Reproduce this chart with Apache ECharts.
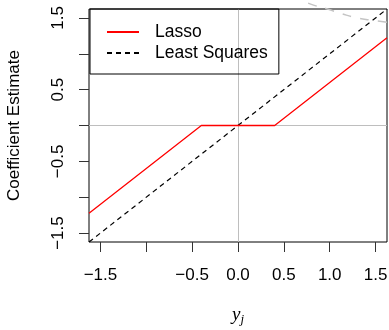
<!DOCTYPE html>
<html>
<head>
<meta charset="utf-8">
<script src="https://cdn.jsdelivr.net/npm/echarts@6/dist/echarts.min.js"></script>
<style>
  html, body { margin: 0; padding: 0; background: #fff; }
  #main { width: 389px; height: 330px; }
</style>
</head>
<body>
<div id="main"></div>
<script>
(function(){
  'use strict';

  // data
  var lassoX = [-1.625, -0.4, 0.4, 1.625];
  var lassoY = [-1.225, 0, 0, 1.225];
  var lsX = [-1.625, 1.625];
  var lsY = [-1.625, 1.625];
  // faint dashed curve in the top right corner
  var curveX = [0.6, 0.7, 0.8, 0.975, 1.13, 1.3, 1.45, 1.63];
  var curveY = [1.84, 1.75, 1.69, 1.625, 1.56, 1.50, 1.47, 1.44];

  var xTicks = [-1.5, -1, -0.5, 0, 0.5, 1, 1.5];
  var xLabels = [-1.5, -0.5, 0, 0.5, 1, 1.5];
  var yTicks = [-1.5, -1, -0.5, 0, 0.5, 1, 1.5];
  var yLabels = [-1.5, -0.5, 0.5, 1.5];

  function pairs(xs, ys) {
    return xs.map(function(x, i){ return [x, ys[i]]; });
  }
  function fmt(v) {
    return v.toFixed(1).replace('-', '\u2212');
  }

  var font = '"Liberation Sans", Arial, Helvetica, sans-serif';
  var myChart = echarts.init(document.getElementById('main'));

  var option = {
    animation: false,
    backgroundColor: '#fff',
    textStyle: { fontFamily: font },
    grid: {
      left: 89, right: 2, top: 9, bottom: 88,
      containLabel: false,
      outerBoundsMode: 'none',
      show: true, borderColor: '#000', borderWidth: 1, backgroundColor: 'transparent'
    },
    legend: {
      data: ['Lasso', 'Least Squares'],
      orient: 'vertical',
      left: 90, top: 9,
      padding: [12.5, 11, 10.5, 16],
      itemGap: 0,
      itemWidth: 32,
      itemHeight: 14,
      borderColor: '#000',
      borderWidth: 1,
      borderRadius: 0,
      backgroundColor: 'transparent',
      itemStyle: { opacity: 0 },
      textStyle: {
        fontFamily: font, fontSize: 17.5, color: '#000',
        lineHeight: 21, padding: [0, 0, 0, 11]
      }
    },
    xAxis: {
      type: 'value',
      min: -1.625, max: 1.625,
      name: '{y|y}{j|j}',
      nameLocation: 'middle',
      nameGap: 61,
      nameTextStyle: {
        rich: {
          y: { fontFamily: '"Liberation Serif", serif', fontStyle: 'italic', fontSize: 19, color: '#000' },
          j: { fontFamily: '"Liberation Serif", serif', fontStyle: 'italic', fontSize: 13, color: '#000', padding: [10, 0, 0, 0] }
        }
      },
      axisLine: { show: false, onZero: false },
      splitLine: { show: false },
      axisTick: { show: true, length: 10, customValues: xTicks, lineStyle: { color: '#333' } },
      axisLabel: {
        customValues: xLabels, formatter: fmt, margin: 25,
        fontSize: 17, color: '#000', fontFamily: font
      }
    },
    yAxis: {
      type: 'value',
      min: -1.625, max: 1.625,
      name: 'Coefficient Estimate',
      nameLocation: 'middle',
      nameRotate: 90,
      nameGap: 66,
      nameTextStyle: { fontSize: 17, color: '#000', fontFamily: font },
      axisLine: { show: false, onZero: false },
      splitLine: { show: false },
      axisTick: { show: true, length: 10, customValues: yTicks, lineStyle: { color: '#333' } },
      axisLabel: {
        customValues: yLabels, formatter: fmt, rotate: 90, margin: 22,
        fontSize: 17, color: '#000', fontFamily: font
      }
    },
    series: [
      {
        name: 'zero',
        type: 'line',
        data: [[0, 0]],
        showSymbol: false,
        symbol: 'none',
        lineStyle: { width: 0 },
        silent: true,
        z: 0,
        markLine: {
          z: 0,
          silent: true,
          symbol: 'none',
          label: { show: false },
          lineStyle: { color: '#bebebe', width: 1, type: 'solid' },
          data: [{ xAxis: 0 }, { yAxis: 0 }]
        }
      },
      {
        name: 'curve',
        type: 'line',
        data: pairs(curveX, curveY),
        symbol: 'none',
        smooth: true,
        clip: false,
        silent: true,
        z: 2,
        lineStyle: { color: '#c4c4c4', width: 1.5, type: [9, 9] }
      },
      {
        name: 'Least Squares',
        type: 'line',
        data: pairs(lsX, lsY),
        symbol: 'none',
        z: 8,
        itemStyle: { color: '#000' },
        lineStyle: { color: '#000', width: 1.2, type: [5, 4] }
      },
      {
        name: 'Lasso',
        type: 'line',
        data: pairs(lassoX, lassoY),
        symbol: 'none',
        z: 10,
        itemStyle: { color: '#ff0000' },
        lineStyle: { color: '#ff0000', width: 1.3 }
      }
    ]
  };

  myChart.setOption(option);
}());
</script>
</body>
</html>
